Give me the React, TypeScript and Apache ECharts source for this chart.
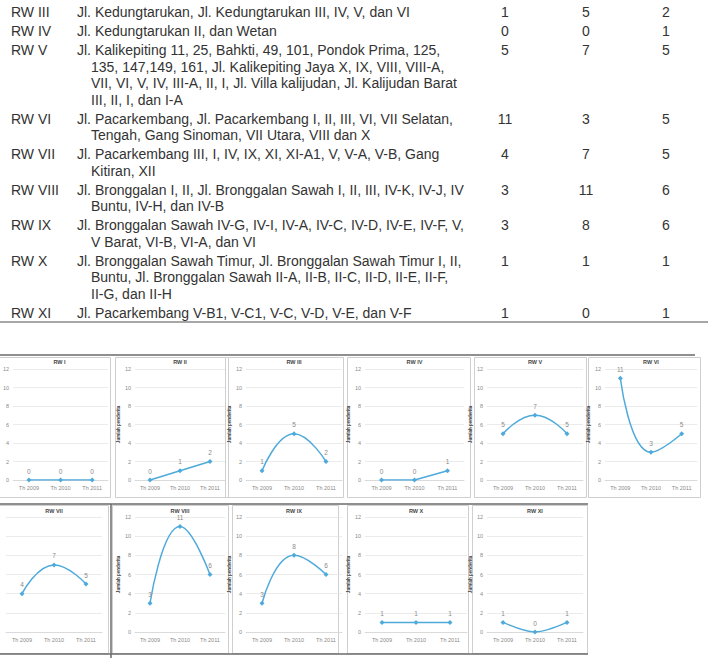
import React, { useEffect, useRef } from "react";
import * as echarts from "echarts";

// ---------- data ----------
const years = ["Th 2009", "Th 2010", "Th 2011"];
const rwNames = ["RW I", "RW II", "RW III", "RW IV", "RW V", "RW VI", "RW VII", "RW VIII", "RW IX", "RW X", "RW XI"];
const rw1 = [0, 0, 0];
const rw2 = [0, 1, 2];
const rw3 = [1, 5, 2];
const rw4 = [0, 0, 1];
const rw5 = [5, 7, 5];
const rw6 = [11, 3, 5];
const rw7 = [4, 7, 5];
const rw8 = [3, 11, 6];
const rw9 = [3, 8, 6];
const rw10 = [1, 1, 1];
const rw11 = [1, 0, 1];
const rwValues = [rw1, rw2, rw3, rw4, rw5, rw6, rw7, rw8, rw9, rw10, rw11];
const smoothed = [false, false, true, false, true, true, true, true, true, false, 0.3];
const yAxisName = "Jumlah penderita";

const tableRw = ["RW III", "RW IV", "RW V", "RW VI", "RW VII", "RW VIII", "RW IX", "RW X", "RW XI"];
const tableRwIndex = [2, 3, 4, 5, 6, 7, 8, 9, 10];
const tableStreets = [
  ["Jl. Kedungtarukan, Jl. Kedungtarukan III, IV, V, dan VI"],
  ["Jl. Kedungtarukan II, dan Wetan"],
  [
    "Jl. Kalikepiting 11, 25, Bahkti, 49, 101, Pondok Prima, 125,",
    "135, 147,149, 161, Jl. Kalikepiting Jaya X, IX, VIII, VIII-A,",
    "VII, VI, V, IV, III-A, II, I, Jl. Villa kalijudan, Jl. Kalijudan Barat",
    "III, II, I, dan I-A",
  ],
  ["Jl. Pacarkembang, Jl. Pacarkembang I, II, III, VI, VII Selatan,", "Tengah, Gang Sinoman, VII Utara, VIII dan X"],
  ["Jl. Pacarkembang III, I, IV, IX, XI, XI-A1, V, V-A, V-B, Gang", "Kitiran, XII"],
  ["Jl. Bronggalan I, II, Jl. Bronggalan Sawah I, II, III, IV-K, IV-J, IV", "Buntu, IV-H, dan IV-B"],
  ["Jl. Bronggalan Sawah IV-G, IV-I, IV-A, IV-C, IV-D, IV-E, IV-F, V,", "V Barat, VI-B, VI-A, dan VI"],
  [
    "Jl. Bronggalan Sawah Timur, Jl. Bronggalan Sawah Timur I, II,",
    "Buntu, Jl. Bronggalan Sawah II-A, II-B, II-C, II-D, II-E, II-F,",
    "II-G, dan II-H",
  ],
  ["Jl. Pacarkembang V-B1, V-C1, V-C, V-D, V-E, dan V-F"],
];

// ---------- layout ----------
const LINE_COLOR = "#4eaadb";
const FONT = "'Liberation Sans', Arial, sans-serif";
const plotX = [
  [11, 97], [135, 90], [246, 96], [365, 99], [487, 96], [605, 92],
  [6, 96], [135, 90], [246, 96], [365, 102], [487, 96],
];
const rowPlot = [
  [369, 111],
  [517, 115],
];
const panelBox = [
  [-2, 110], [115, 228], [225, 343], [347, 470], [474, 586], [588, 700],
  [-2, 108], [112, 228], [232, 338], [347, 468], [472, 587],
];
const rowBox = [
  [357, 497],
  [505, 653],
];

export default function App() {
  const ref = useRef<HTMLDivElement>(null);
  useEffect(() => {
    if (!ref.current) return;
    const chart = echarts.init(ref.current, undefined, { renderer: "svg" });

    const grids: any[] = [];
    const xAxes: any[] = [];
    const yAxes: any[] = [];
    const series: any[] = [];
    const graphic: any[] = [];

    rwValues.forEach((vals, i) => {
      const row = i < 6 ? 0 : 1;
      const [left, width] = plotX[i];
      const [top, height] = rowPlot[row];
      grids.push({ left, top, width, height });
      xAxes.push({
        type: "category",
        gridIndex: i,
        data: years,
        boundaryGap: true,
        axisLine: { show: true, lineStyle: { color: "#d6d6d6", width: 0.8 } },
        axisTick: { show: false },
        axisLabel: { fontSize: 5.5, color: "#8a8a8a", margin: 5, interval: 0, fontFamily: FONT },
      });
      const showName = i !== 0 && i !== 6;
      yAxes.push({
        type: "value",
        gridIndex: i,
        min: 0,
        max: 12,
        interval: 2,
        axisLine: { show: false },
        axisTick: { show: false },
        splitLine: { lineStyle: { color: "#e2e2e2", width: 0.7 } },
        axisLabel: { show: i !== 6, fontSize: 5.5, color: "#8a8a8a", margin: 4, fontFamily: FONT },
        name: showName ? yAxisName : "",
        nameLocation: "middle",
        nameRotate: 90,
        nameGap: 12,
        nameTextStyle: { fontSize: 4.5, color: "#444", fontWeight: "bold", fontFamily: FONT },
      });
      series.push({
        type: "line",
        xAxisIndex: i,
        yAxisIndex: i,
        data: vals,
        smooth: smoothed[i],
        symbol: "diamond",
        symbolSize: 5,
        itemStyle: { color: LINE_COLOR },
        lineStyle: { color: LINE_COLOR, width: 1.5 },
        label: { show: true, position: "top", distance: 3, fontSize: 6.5, color: "#8a8a8a", fontFamily: FONT },
      });
      const [bx0, bx1] = panelBox[i];
      const [by0, by1] = rowBox[row];
      graphic.push({
        type: "rect",
        shape: { x: bx0 + 0.5, y: by0 + 0.5, width: bx1 - bx0, height: by1 - by0 },
        style: { fill: "none", stroke: "#cfcfcf", lineWidth: 1 },
        silent: true,
      });
      graphic.push({
        type: "text",
        x: left + width / 2,
        y: row === 0 ? 362 : 511,
        style: {
          text: rwNames[i],
          fontSize: 5.5,
          fontWeight: "bold",
          fontFamily: FONT,
          fill: "#444",
          align: "center",
          verticalAlign: "middle",
          textAlign: "center",
          textVerticalAlign: "middle",
        },
      });
    });

    const darkLines = [
      [0, 355, 695, 355],
      [0, 504, 588, 504],
      [0, 654, 588, 654],
      [111, 504, 111, 658],
    ];
    darkLines.forEach(([x1, y1, x2, y2]) =>
      graphic.push({ type: "line", shape: { x1, y1, x2, y2 }, style: { stroke: "#6a6a6a", lineWidth: 1.5 }, silent: true })
    );

    // table
    const lineH = 16.5;
    const rowGap = 2.5;
    let lineCount = 0;
    const txt = (text: string, x: number, y: number, align = "left") => ({
      type: "text",
      x,
      y,
      style: {
        text,
        fontSize: 14,
        fontFamily: FONT,
        fill: "#333",
        align,
        verticalAlign: "middle",
        textAlign: align,
        textVerticalAlign: "middle",
      },
    });
    tableRw.forEach((rw, r) => {
      const y0 = 12 + lineCount * lineH + r * rowGap;
      graphic.push(txt(rw, 11, y0));
      tableStreets[r].forEach((s, k) => {
        graphic.push(txt(s, k === 0 ? 77 : 91, y0 + k * lineH));
      });
      const v = rwValues[tableRwIndex[r]];
      graphic.push(txt(String(v[0]), 505, y0, "center"));
      graphic.push(txt(String(v[1]), 586, y0, "center"));
      graphic.push(txt(String(v[2]), 666, y0, "center"));
      lineCount += tableStreets[r].length;
    });
    graphic.push({ type: "line", shape: { x1: 0, y1: 322, x2: 708, y2: 322 }, style: { stroke: "#8a8a8a", lineWidth: 1.5 } });

    chart.setOption({
      animation: false,
      backgroundColor: "#ffffff",
      textStyle: { fontFamily: FONT },
      grid: grids,
      xAxis: xAxes,
      yAxis: yAxes,
      series,
      graphic,
    });
    return () => chart.dispose();
  }, []);
  return <div ref={ref} style={{ position: "absolute", left: 0, top: 0, width: 708, height: 658 }} />;
}
